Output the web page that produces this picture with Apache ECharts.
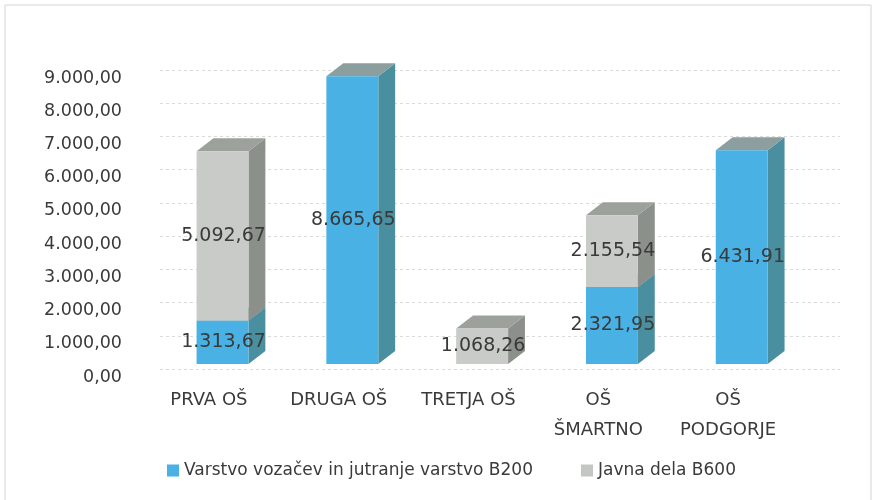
<!DOCTYPE html>
<html>
<head>
<meta charset="utf-8">
<script src="https://cdn.jsdelivr.net/npm/echarts@6/dist/echarts.min.js"></script>
<style>
html,body{margin:0;padding:0;background:#fff;}
#c{width:882px;height:500px;}
</style>
</head>
<body>
<div id="c"></div>
<script>
const categories = ['PRVA OŠ', 'DRUGA OŠ', 'TRETJA OŠ', 'OŠ ŠMARTNO', 'OŠ PODGORJE'];
const seriesNames = ['Varstvo vozačev in jutranje varstvo B200', 'Javna dela B600'];
const varstvoB200 = [1313.67, 8665.65, null, 2321.95, 6431.91];
const javnaDelaB600 = [5092.67, null, 1068.26, 2155.54, null];
const yTicks = { min: 0, max: 9000, interval: 1000 };

function fmt(v) {
  const s = Number(v).toFixed(2);
  let [i, d] = s.split('.');
  i = i.replace(/\B(?=(\d{3})+(?!\d))/g, '.');
  return i + ',' + d;
}

const FONT = '"DejaVu Sans", sans-serif';
const TXT = '#3a3a3a';

function makeRender(c) {
  return function (params, api) {
    const val = api.value(2);
    if (val == null || isNaN(val) || val === 0) return;
    const base = api.value(1);
    const band = api.size([1, 0])[0];
    const pb = api.coord([api.value(0), base]);
    const pt = api.coord([api.value(0), base + val]);
    const shift = band * 0.1;
    const x0 = pb[0] - band * 0.095;
    const x1 = x0 + band * 0.4;
    const dx = band * 0.13, dy = band * 0.1;
    const yt = pt[1] - shift, yb = pb[1] - shift;
    return {
      type: 'group',
      children: [
        { type: 'polygon', shape: { points: [[x1, yb], [x1 + dx, yb - dy], [x1 + dx, yt - dy], [x1, yt]] }, style: { fill: c.side } },
        { type: 'polygon', shape: { points: [[x0, yt], [x1, yt], [x1 + dx, yt - dy], [x0 + dx, yt - dy]] }, style: { fill: c.top } },
        { type: 'rect', shape: { x: x0, y: yt, width: x1 - x0, height: yb - yt }, style: { fill: c.front } },
        { type: 'text', z2: 50, style: { x: (x0 + x1) / 2 + 1, y: (yt + yb) / 2, text: fmt(val), align: 'center', verticalAlign: 'middle', fill: TXT, font: '19px ' + FONT } }
      ]
    };
  };
}

const blueC = { front: '#49b1e4', side: '#4a8f9f', top: '#8c9e9d' };
const grayC = { front: '#c8cbc7', side: '#8b908b', top: '#9ca19b' };

const blueData = categories.map((c, i) => [i, 0, varstvoB200[i]]);
const grayData = categories.map((c, i) => [i, varstvoB200[i] || 0, javnaDelaB600[i]]);

const chart = echarts.init(document.getElementById('c'), null, { renderer: 'canvas' });
chart.setOption({
  animation: false,
  backgroundColor: '#fff',
  textStyle: { fontFamily: FONT },
  graphic: [
    { type: 'rect', shape: { x: 5, y: 5, width: 866, height: 510 }, style: { fill: 'none', stroke: '#d4d4d4', lineWidth: 1 }, z: -10 }
  ],
  legend: {
    top: 457,
    left: 162,
    itemWidth: 12,
    itemHeight: 12,
    itemGap: 48,
    icon: 'rect',
    textStyle: { color: TXT, fontSize: 17, fontFamily: FONT },
    data: seriesNames
  },
  grid: [
    { left: 143, right: 42, top: 78, bottom: 123 },
    { left: 144, right: 89, top: 78, bottom: 123 },
    { left: 160, right: 42, top: 70, bottom: 131 }
  ],
  xAxis: [
    { type: 'category', gridIndex: 0, data: categories, show: false },
    {
      type: 'category', gridIndex: 1, data: categories,
      axisLine: { show: false }, axisTick: { show: false },
      axisLabel: {
        color: TXT, fontSize: 18, fontFamily: FONT, margin: 8, lineHeight: 30, interval: 0,
        formatter: v => v.startsWith('OŠ ') ? v.replace('OŠ ', 'OŠ\n') : v
      }
    },
    { type: 'category', gridIndex: 2, data: categories, show: false }
  ],
  yAxis: [
    {
      type: 'value', gridIndex: 0, min: yTicks.min, max: yTicks.max, interval: yTicks.interval,
      axisLine: { show: false }, axisTick: { show: false },
      axisLabel: { color: TXT, fontSize: 17.5, fontFamily: FONT, margin: 21, formatter: v => fmt(v) },
      splitLine: { show: false }
    },
    {
      type: 'value', gridIndex: 1, min: yTicks.min, max: yTicks.max, interval: yTicks.interval,
      show: false, splitLine: { show: false }
    },
    {
      type: 'value', gridIndex: 2, min: yTicks.min, max: yTicks.max, interval: yTicks.interval,
      axisLine: { show: false }, axisTick: { show: false }, axisLabel: { show: false },
      splitLine: { lineStyle: { color: '#dadada', type: [3, 3], width: 1 } }
    }
  ],
  series: [
    {
      name: seriesNames[0], type: 'custom', xAxisIndex: 1, yAxisIndex: 1,
      itemStyle: { color: '#49b1e4' },
      encode: { x: 0, y: [1, 2] },
      data: blueData,
      renderItem: makeRender(blueC)
    },
    {
      name: seriesNames[1], type: 'custom', xAxisIndex: 1, yAxisIndex: 1,
      itemStyle: { color: '#c4c6c3' },
      encode: { x: 0, y: [1, 2] },
      data: grayData,
      renderItem: makeRender(grayC)
    }
  ]
});
</script>
</body>
</html>
